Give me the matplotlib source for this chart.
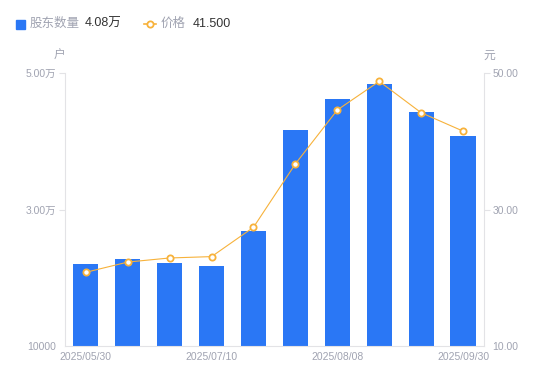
import numpy as np
import matplotlib.pyplot as plt
from matplotlib.lines import Line2D

plt.rcParams['font.family'] = ['Liberation Sans', 'Noto Sans CJK SC']

# 股东数量 (万户) 和 价格 (元)
holders = [2.20, 2.27, 2.21, 2.17, 2.69, 4.17, 4.62, 4.84, 4.43, 4.08]
price = [20.8, 22.3, 22.9, 23.1, 27.4, 36.7, 44.6, 48.8, 44.2, 41.5]
date_labels = ['2025/05/30', '', '', '2025/07/10', '', '', '2025/08/08', '', '', '2025/09/30']

blue = '#2a77f5'
orange = '#f7b23b'
grey = '#a0a3b1'
axis_col = '#e3e3e6'

fig = plt.figure(figsize=(5.5, 3.81), dpi=100)
ax = fig.add_axes([0.118, 0.092, 0.762, 0.716])
ax2 = ax.twinx()

x = np.arange(len(holders))
ax.bar(x, np.array(holders) - 1, bottom=1, width=0.6, color=blue, zorder=2)
ax2.plot(x, price, color=orange, lw=0.8, marker='o', ms=4.5,
         mfc='white', mec=orange, mew=1.3, zorder=3)

ax.set_xlim(-0.5, len(holders) - 0.5)
ax.set_ylim(1, 5)
ax2.set_ylim(10, 50)
ax.set_yticks([1, 3, 5])
ax.set_yticklabels(['10000', '3.00万', '5.00万'])
ax2.set_yticks([10, 30, 50])
ax2.set_yticklabels(['10.00', '30.00', '50.00'])
ax.set_xticks(x)
ax.set_xticklabels(date_labels)

for a in (ax, ax2):
    for s in a.spines.values():
        s.set_visible(False)
    a.tick_params(colors=grey, labelsize=7.5, length=4, width=0.8, color=axis_col, pad=2)
ax.tick_params(axis='x', length=0, pad=4)
ax.spines['left'].set_visible(True)
ax.spines['left'].set_color(axis_col)
ax.spines['bottom'].set_visible(True)
ax.spines['bottom'].set_color(axis_col)
ax2.spines['right'].set_visible(True)
ax2.spines['right'].set_color(axis_col)
# 最下面的刻度没有刻度线
ax.yaxis.get_major_ticks()[0].tick1line.set_visible(False)
ax2.yaxis.get_major_ticks()[0].tick2line.set_visible(False)

fig.text(59 / 550, 1 - 56 / 381, '户', color=grey, fontsize=8.5, ha='center', va='center')
fig.text(489 / 550, 1 - 56 / 381, '元', color=grey, fontsize=8.5, ha='center', va='center')

# 图例
ly = 1 - 24 / 381
fig.patches.append(plt.Rectangle((16 / 550, ly - 4.5 / 381), 9 / 550, 9 / 381,
                                 transform=fig.transFigure, color=blue))
fig.text(30 / 550, ly, '股东数量', color=grey, fontsize=9, va='center')
fig.text(85 / 550, ly, '4.08万', color='#333333', fontsize=9, va='center')
fig.add_artist(Line2D([144 / 550, 156 / 550], [ly, ly], transform=fig.transFigure,
                      color=orange, lw=1.2))
fig.add_artist(Line2D([150 / 550], [ly], transform=fig.transFigure, color=orange,
                      marker='o', ms=4.5, mfc='white', mec=orange, mew=1.3))
fig.text(161 / 550, ly, '价格', color=grey, fontsize=9, va='center')
fig.text(193 / 550, ly, '41.500', color='#333333', fontsize=9, va='center')

fig.savefig('out.png')
